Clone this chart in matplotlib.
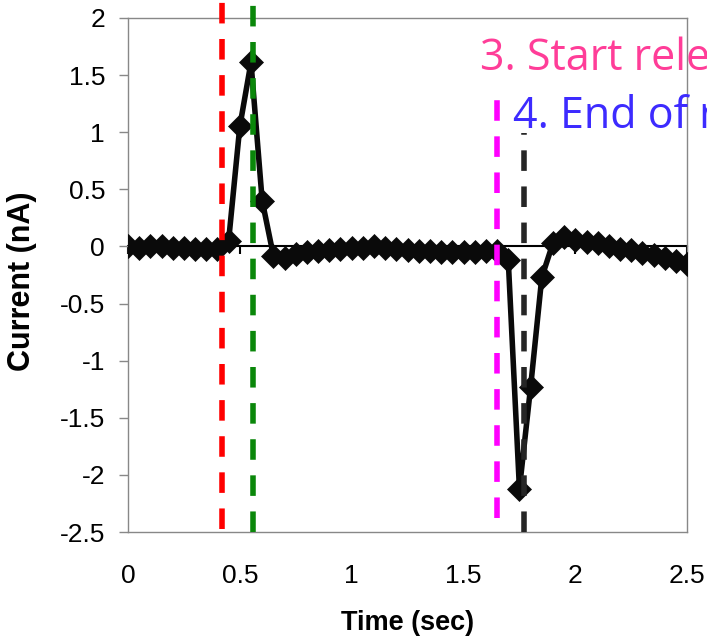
import matplotlib.pyplot as plt
import numpy as np

plt.rcParams['axes.unicode_minus'] = False
plt.rcParams['font.family'] = ['Liberation Sans', 'DejaVu Sans']

# --------------------------- DATA ------------------------------#

time_sec = np.round(np.arange(0, 2.501, 0.05), 2)

current_na = [
    0.00, -0.01, 0.00, 0.00, -0.01, -0.01, -0.02, -0.02, -0.02,   # 0.0 - 0.4
    0.05, 1.05, 1.61, 0.40, -0.08, -0.10, -0.07, -0.05, -0.04,    # 0.45 - 0.85
    -0.03, -0.02, -0.01, -0.01, 0.00, -0.01, -0.02, -0.03, -0.04, # 0.9 - 1.3
    -0.04, -0.05, -0.05, -0.05, -0.05, -0.04, -0.04,              # 1.35 - 1.65
    -0.12, -2.12, -1.23, -0.27, 0.03, 0.08, 0.06, 0.04, 0.03,     # 1.7 - 2.1
    0.00, -0.02, -0.03, -0.055, -0.075, -0.10, -0.125, -0.15,     # 2.15 - 2.5
]

# event markers: time, color, (y start, y end)
event_times = [0.42, 0.56, 1.65, 1.77]
event_colors = ['#ff0000', '#0a870a', '#ff00ff', '#262626']
event_spans = [(-2.47, 2.16), (-2.5, 2.16), (-2.38, 1.385), (-2.5, 0.99)]

notes = ['3. Start release', '4. End of release']
note_pos = [(1.574, 1.545), (1.722, 1.036)]
note_colors = ['#ff3d98', '#3d2bff']

xticks = [0, 0.5, 1, 1.5, 2, 2.5]
xticklabels = ['0', '0.5', '1', '1.5', '2', '2.5']
yticks = [2, 1.5, 1, 0.5, 0, -0.5, -1, -1.5, -2, -2.5]
yticklabels = ['2', '1.5', '1', '0.5', '0', '-0.5', '-1', '-1.5', '-2', '-2.5']

# --------------------------- PLOT ------------------------------#

fig = plt.figure(figsize=(7.07, 6.38), dpi=100)
ax = fig.add_axes([0.181, 0.166, 0.791, 0.806])

ax.plot(time_sec, current_na, color='#0a0a0a', lw=4, marker='D',
        markersize=12.5, markeredgewidth=0.5, zorder=3)

for t, c, (y0, y1) in zip(event_times, event_colors, event_spans):
    ax.plot([t, t], [y0, y1], color=c, lw=4, dashes=(3.7, 2.8),
            clip_on=False, zorder=4)

for txt, (x, y), c in zip(notes, note_pos, note_colors):
    ax.text(x, y, txt, color=c, fontsize=31, family=['Open Sans', 'DejaVu Sans'],
            ha='left', va='baseline', zorder=5)

ax.set_xlim(0, 2.5)
ax.set_ylim(-2.5, 2)
ax.set_xticks(xticks)
ax.set_xticklabels(xticklabels)
ax.set_yticks(yticks)
ax.set_yticklabels(yticklabels)

ax.tick_params(axis='x', length=0, pad=23, labelsize=19)
ax.tick_params(axis='y', length=6.5, width=1, color='#888888', pad=10,
               labelsize=19, direction='out')

for s in ax.spines.values():
    s.set_color('#888888')
    s.set_linewidth(1)

# zero line with ticks, excel style
zero_ax = ax.secondary_xaxis(0, transform=ax.transData)
zero_ax.set_xticks(xticks)
zero_ax.set_xticklabels([])
zero_ax.spines['bottom'].set_color('black')
zero_ax.spines['bottom'].set_linewidth(1.5)
zero_ax.tick_params(axis='x', length=5.5, width=1.5, color='black', direction='out')

ax.set_xlabel('Time (sec)', fontsize=19.5, fontweight='bold', labelpad=16)
ax.set_ylabel('Current (nA)', fontsize=22, fontweight='bold')
ax.yaxis.set_label_coords(-0.163, 0.488)

fig.savefig('out.png', dpi=100)
